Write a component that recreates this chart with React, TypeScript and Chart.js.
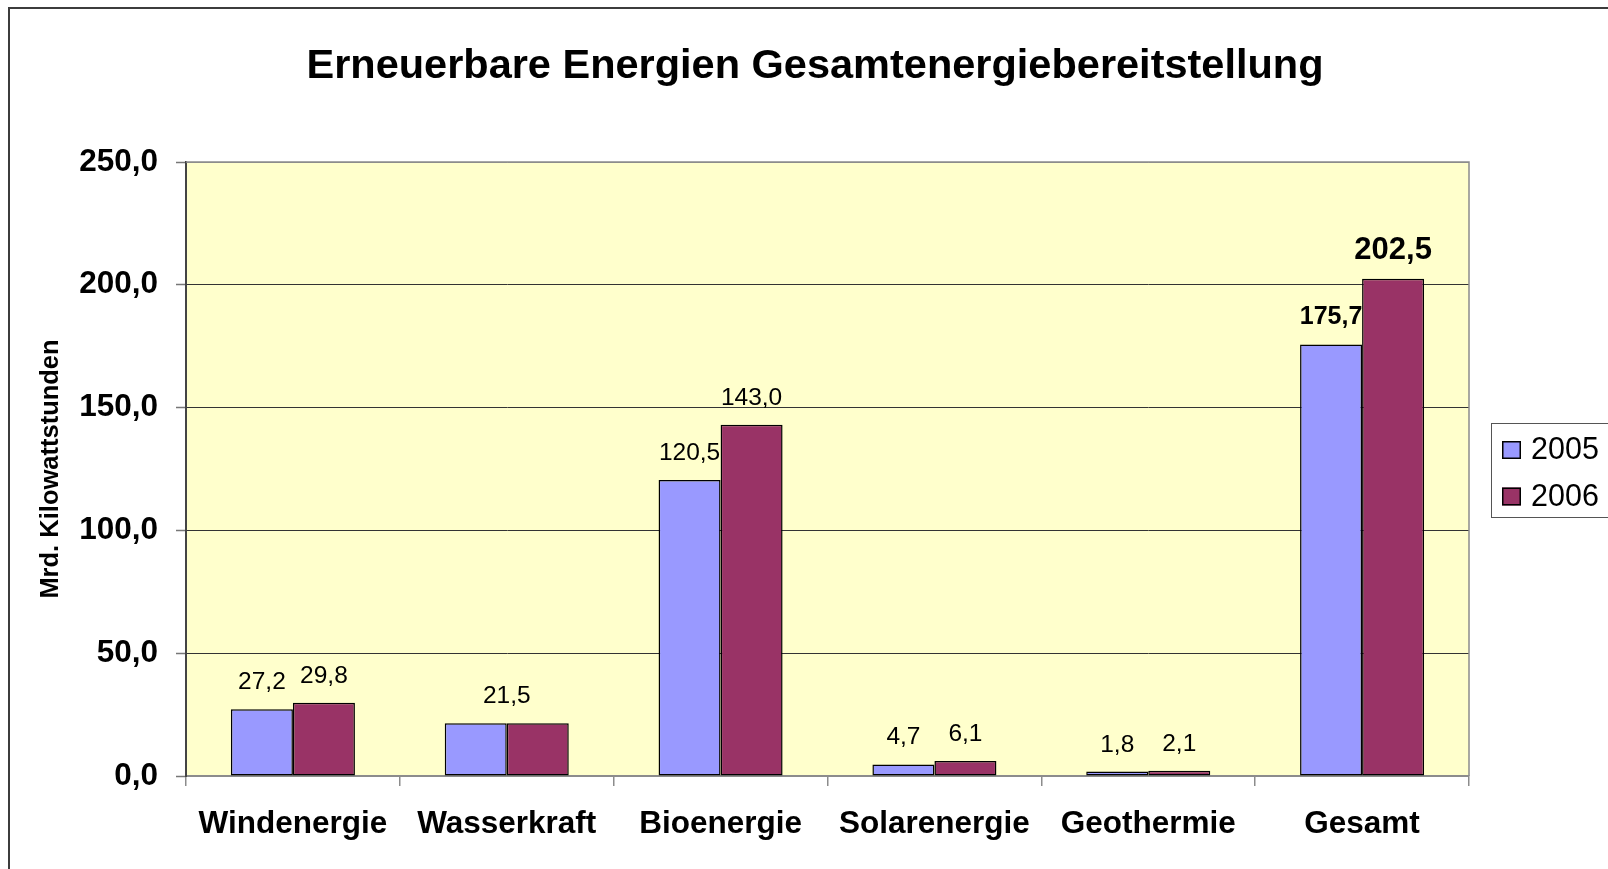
import { useEffect, useRef } from 'react';
import { Chart, registerables } from 'chart.js';

Chart.register(...registerables);

const categories = ['Windenergie', 'Wasserkraft', 'Bioenergie', 'Solarenergie', 'Geothermie', 'Gesamt'];
const values2005 = [27.2, 21.5, 120.5, 4.7, 1.8, 175.7];
const values2006 = [29.8, 21.5, 143.0, 6.1, 2.1, 202.5];
const seriesLabels = ['2005', '2006'];
const seriesColors = ['#9999FF', '#993366'];
const yMin = 0;
const yMax = 250;
const yStep = 50;
const titleText = 'Erneuerbare Energien Gesamtenergiebereitstellung';
const yAxisTitle = 'Mrd. Kilowattstunden';
const highlighted = ['Gesamt'];

const FONT = "'Liberation Sans', Arial, Helvetica, sans-serif";
const fmt = (v: number) => Number(v).toFixed(1).replace('.', ',');

const decor = {
  id: 'decor',
  beforeDraw(chart: any) {
    const { ctx, chartArea: a } = chart;
    ctx.save();
    ctx.fillStyle = '#ffffff';
    ctx.fillRect(0, 0, chart.width, chart.height);
    ctx.fillStyle = '#FFFFCC';
    ctx.fillRect(a.left, a.top, a.right - a.left, a.bottom - a.top);
    ctx.restore();
  },
  afterDatasetsDraw(chart: any) {
    const { ctx } = chart;
    const metas = [chart.getDatasetMeta(0), chart.getDatasetMeta(1)];
    const series = [values2005, values2006];
    ctx.save();
    ctx.fillStyle = '#000';
    ctx.textAlign = 'center';
    ctx.textBaseline = 'alphabetic';
    categories.forEach((cat, j) => {
      const bold = highlighted.includes(cat);
      const v0 = series[0][j];
      const v1 = series[1][j];
      if (v0 === v1) {
        const b0 = metas[0].data[j];
        const b1 = metas[1].data[j];
        ctx.font = `${bold ? 'bold ' : ''}24.5px ${FONT}`;
        ctx.fillText(fmt(v0), (b0.x + b1.x) / 2, Math.min(b0.y, b1.y) - 20);
        return;
      }
      series.forEach((vals, i) => {
        const bar = metas[i].data[j];
        const size = bold ? (i === 0 ? 25 : 31) : 24.5;
        ctx.font = `${bold ? 'bold ' : ''}${size}px ${FONT}`;
        ctx.fillText(fmt(vals[j]), bar.x, bar.y - 20);
      });
    });
    ctx.restore();
  },
  afterDraw(chart: any) {
    const { ctx, chartArea: a } = chart;
    ctx.save();
    // plot area top/right border
    ctx.strokeStyle = '#8c8c8c';
    ctx.lineWidth = 1.5;
    ctx.beginPath();
    ctx.moveTo(a.left, a.top);
    ctx.lineTo(a.right, a.top);
    ctx.lineTo(a.right, a.bottom);
    ctx.stroke();
    // outer frame
    ctx.strokeStyle = '#3c3c3c';
    ctx.lineWidth = 2;
    ctx.strokeRect(9, 8, 2000, 2000);
    // title
    ctx.fillStyle = '#000';
    ctx.textAlign = 'center';
    ctx.textBaseline = 'alphabetic';
    ctx.font = `bold 41.5px ${FONT}`;
    ctx.fillText(titleText, 815, 78);
    // legend
    ctx.strokeStyle = '#555';
    ctx.lineWidth = 1;
    ctx.fillStyle = '#fff';
    ctx.fillRect(1491.5, 423.5, 200, 94);
    ctx.strokeRect(1491.5, 423.5, 200, 94);
    ctx.font = `30.5px ${FONT}`;
    ctx.textAlign = 'left';
    seriesLabels.forEach((lab, i) => {
      const sy = 441 + i * 46.5;
      ctx.fillStyle = seriesColors[i];
      ctx.fillRect(1502, sy, 19, 18);
      ctx.strokeStyle = '#000';
      ctx.lineWidth = 1.5;
      ctx.strokeRect(1502.75, sy + 0.75, 17.5, 16.5);
      ctx.fillStyle = '#000';
      ctx.fillText(lab, 1531, 459 + i * 47);
    });
    ctx.restore();
  },
};

export default function App() {
  const ref = useRef<HTMLCanvasElement | null>(null);

  useEffect(() => {
    if (!ref.current) return;
    const chart = new Chart(ref.current, {
      type: 'bar',
      data: {
        labels: categories,
        datasets: [
          {
            label: seriesLabels[0],
            data: values2005,
            backgroundColor: seriesColors[0],
            borderColor: '#000',
            borderWidth: 1.5,
            borderSkipped: false,
          },
          {
            label: seriesLabels[1],
            data: values2006,
            backgroundColor: seriesColors[1],
            borderColor: '#000',
            borderWidth: 1.5,
            borderSkipped: false,
          },
        ],
      },
      options: {
        responsive: false,
        animation: false,
        datasets: { bar: { categoryPercentage: 0.58, barPercentage: 1.0 } },
        layout: { padding: { top: 162, right: 139, left: 0, bottom: 0 } },
        plugins: {
          legend: { display: false },
          title: { display: false },
          tooltip: { enabled: false },
        },
        scales: {
          x: {
            offset: true,
            grid: {
              offset: true,
              drawOnChartArea: false,
              drawTicks: true,
              tickLength: 10,
              color: '#8c8c8c',
              lineWidth: 1.5,
            },
            border: { color: '#8c8c8c', width: 2 },
            ticks: {
              font: { family: FONT, size: 31.5, weight: 'bold' },
              color: '#000',
              padding: 19,
              maxRotation: 0,
              autoSkip: false,
            },
            afterFit: (s: any) => {
              s.height = 93;
            },
          },
          y: {
            min: yMin,
            max: yMax,
            ticks: {
              stepSize: yStep,
              callback: (v: any) => fmt(Number(v)),
              font: { family: FONT, size: 31.5, weight: 'bold' },
              color: '#000',
              padding: 18,
            },
            grid: {
              color: (c: any) => (c.tick && c.tick.value === yMax ? '#8c8c8c' : '#333'),
              lineWidth: 1,
              tickLength: 10,
              tickColor: '#777',
              tickWidth: 1.5,
            },
            border: { color: '#444', width: 2 },
            title: {
              display: true,
              text: yAxisTitle,
              font: { family: FONT, size: 25.5, weight: 'bold' },
              color: '#000',
              padding: { top: 36, bottom: 0 },
            },
            afterFit: (s: any) => {
              s.width = 186;
            },
          },
        },
      } as any,
      plugins: [decor],
    });
    return () => chart.destroy();
  }, []);

  return (
    <div
      style={{
        position: 'fixed',
        left: 0,
        top: 0,
        width: 1608,
        height: 869,
        overflow: 'hidden',
        background: '#fff',
      }}
    >
      <canvas ref={ref} width={1608} height={869} style={{ display: 'block' }} />
    </div>
  );
}
